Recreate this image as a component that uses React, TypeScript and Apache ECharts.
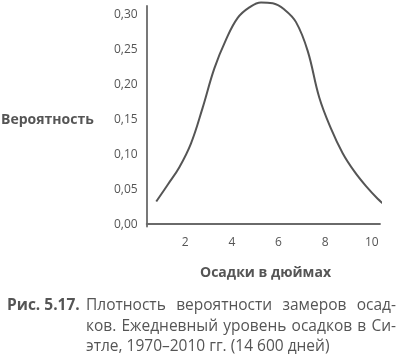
import React, { useEffect, useRef } from "react";
import * as echarts from "echarts";

const xValues = [0.76, 1.25, 1.75, 2.25, 2.75, 3.25, 3.75, 4.25, 4.75, 5.25, 5.75, 6.25, 6.75, 7.25, 7.75, 8.25, 8.75, 9.25, 9.75, 10.25, 10.55];
const yValues = [0.032, 0.056, 0.081, 0.115, 0.166, 0.222, 0.263, 0.294, 0.309, 0.316, 0.315, 0.306, 0.288, 0.247, 0.18, 0.136, 0.101, 0.075, 0.054, 0.036, 0.027];
const xTicks = [2, 4, 6, 8, 10];
const yTicks = [0, 0.05, 0.1, 0.15, 0.2, 0.25, 0.3];
const yTitle = "Вероятность";
const xTitle = "Осадки в дюймах";
const captionLabel = "Рис. 5.17.";
const captionLines = [
  "Плотность вероятности замеров осад-",
  "ков. Ежедневный уровень осадков в Си-",
  "этле, 1970–2010 гг. (14 600 дней)",
];

const FONT = "'Open Sans', 'Noto Sans', sans-serif";
const TEXT = "#555";
const CAP_FONT = `15.5px ${FONT}`;

function measure(text: string, font: string): number {
  const c = document.createElement("canvas").getContext("2d");
  if (!c) return text.length * 8;
  c.font = font;
  return c.measureText(text).width;
}

function justifiedLine(line: string, x0: number, x1: number, y: number, justify: boolean) {
  if (!justify) {
    return [{ type: "text", x: x0, y, style: { text: line, font: CAP_FONT, fill: TEXT, verticalAlign: "middle" } }];
  }
  const words = line.split(" ");
  const widths = words.map((w) => measure(w, CAP_FONT));
  const total = widths.reduce((a, b) => a + b, 0);
  const gap = (x1 - x0 - total) / (words.length - 1);
  let x = x0;
  return words.map((w, i) => {
    const el = { type: "text", x, y, style: { text: w, font: CAP_FONT, fill: TEXT, verticalAlign: "middle" } };
    x += widths[i] + gap;
    return el;
  });
}

export default function App() {
  const ref = useRef<HTMLDivElement>(null);
  useEffect(() => {
    if (!ref.current) return;
    const chart = echarts.init(ref.current, null, { renderer: "svg" });
    const data = xValues.map((x, i) => [x, yValues[i]]);
    const caption: any[] = [];
    captionLines.forEach((line, i) => {
      caption.push(...justifiedLine(line, 86, 396, 304 + i * 20.5, i < 2));
    });
    chart.setOption({
      animation: false,
      grid: { left: 146.7, right: 20, top: 6, bottom: 128.5, containLabel: false },
      xAxis: {
        type: "value",
        min: 0.35,
        max: 10.35,
        axisLine: { show: true, lineStyle: { color: "#6a6a6a", width: 1.8 } },
        axisTick: { show: false },
        splitLine: { show: false },
        axisLabel: {
          customValues: xTicks,
          color: TEXT,
          fontSize: 12,
          fontFamily: FONT,
          margin: 9,
        },
      },
      yAxis: {
        type: "value",
        min: -0.0036,
        max: 0.311,
        axisLine: { show: true, lineStyle: { color: "#6a6a6a", width: 1.8 } },
        axisTick: { show: false },
        splitLine: { show: false },
        axisLabel: {
          customValues: yTicks,
          formatter: (v: number) => v.toFixed(2).replace(".", ","),
          color: TEXT,
          fontSize: 12,
          fontFamily: FONT,
          margin: 9,
        },
      },
      series: [
        {
          type: "line",
          data,
          smooth: 0.4,
          showSymbol: false,
          clip: false,
          lineStyle: { color: "#555", width: 2 },
        },
      ],
      graphic: [
        {
          type: "text",
          x: 1,
          y: 118,
          style: { text: yTitle, font: `bold 14px ${FONT}`, fill: TEXT, verticalAlign: "middle" },
        },
        {
          type: "text",
          x: 265.5,
          y: 271,
          style: { text: xTitle, font: `bold 14px ${FONT}`, fill: TEXT, align: "center", verticalAlign: "middle" },
        },
        {
          type: "text",
          x: 7,
          y: 304,
          style: { text: captionLabel, font: `bold 15.5px ${FONT}`, fill: TEXT, verticalAlign: "middle" },
        },
        ...caption,
      ],
    });
    return () => chart.dispose();
  }, []);
  return <div ref={ref} style={{ position: "fixed", left: 0, top: 0, width: 400, height: 355 }} />;
}
